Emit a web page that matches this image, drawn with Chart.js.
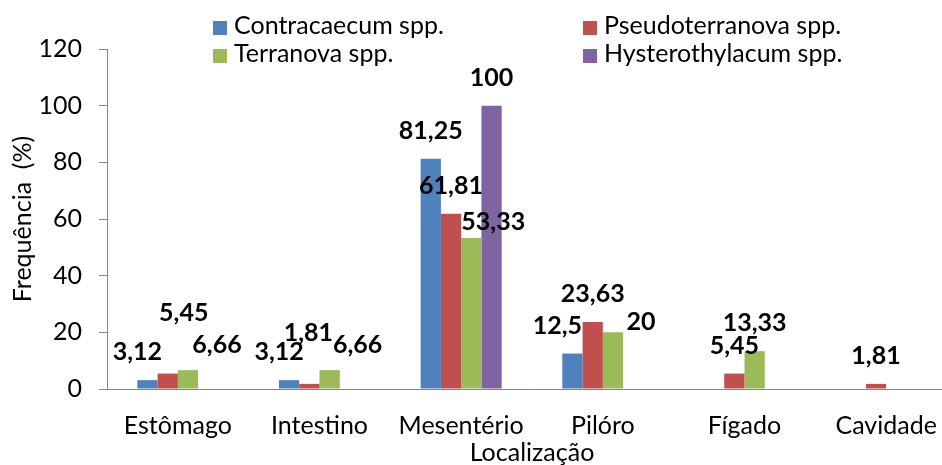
<!DOCTYPE html>
<html>
<head>
<meta charset="utf-8">
<title>Frequência por localização</title>
<script src="https://cdn.jsdelivr.net/npm/chart.js@4/dist/chart.umd.min.js"></script>
<style>
  html, body { margin: 0; padding: 0; overflow: hidden; background: #fff; }
  #wrap { position: relative; width: 960px; height: 465px; }
  #legend { position: absolute; left: 0; top: 0; font-family: Lato, sans-serif; font-size: 25px; color: #000; }
  .item { position: absolute; white-space: nowrap; line-height: 28px; }
  .box { display: inline-block; width: 14px; height: 14px; margin-right: 7px; vertical-align: -1px; }
</style>
</head>
<body>
<div id="wrap">
  <canvas id="chart" width="960" height="465"></canvas>
  <div id="legend"></div>
</div>
<script>
// data
const categories = ['Estômago', 'Intestino', 'Mesentério', 'Pilóro', 'Fígado', 'Cavidade'];
const seriesNames = ['Contracaecum spp.', 'Pseudoterranova spp.', 'Terranova spp.', 'Hysterothylacum spp.'];
const contracaecum = [3.12, 3.12, 81.25, 12.5, null, null];
const pseudoterranova = [5.45, 1.81, 61.81, 23.63, 5.45, 1.81];
const terranova = [6.66, 6.66, 53.33, 20, 13.33, null];
const hysterothylacum = [null, null, 100, null, null, null];
const yTicks = [0, 20, 40, 60, 80, 100, 120];

const colors = ['#4F81BD', '#C0504D', '#9BBB59', '#8064A2'];
const seriesValues = [contracaecum, pseudoterranova, terranova, hysterothylacum];

// labels sit above the bar; a few were dragged aside in the original to avoid overlap
const labelLift = 28;
const labelNudge = {
  '0,0': [-10, 0], '1,0': [16, -33], '2,0': [29, 3],
  '0,1': [-10, 0], '1,1': [-1, -23], '2,1': [28, 3],
  '2,2': [22, 12],
  '0,3': [-15, 0], '2,3': [28, 18]
};

const valueLabels = {
  id: 'valueLabels',
  afterDatasetsDraw(chart) {
    const ctx = chart.ctx;
    ctx.save();
    ctx.font = 'bold 25px Lato, sans-serif';
    ctx.fillStyle = '#000';
    ctx.textAlign = 'center';
    ctx.textBaseline = 'middle';
    chart.data.datasets.forEach((ds, di) => {
      chart.getDatasetMeta(di).data.forEach((bar, ci) => {
        const v = ds.data[ci];
        if (v == null) return;
        const n = labelNudge[di + ',' + ci] || [0, 0];
        ctx.fillText(String(v).replace('.', ','), bar.x + n[0], bar.y - labelLift + n[1]);
      });
    });
    ctx.restore();
  }
};

const legend = document.getElementById('legend');
const legendSpots = [[213, 10], [583, 10], [213, 38], [583, 38]];
seriesNames.forEach((name, i) => {
  const el = document.createElement('div');
  el.className = 'item';
  el.style.left = legendSpots[i][0] + 'px';
  el.style.top = legendSpots[i][1] + 'px';
  el.innerHTML = '<span class="box" style="background:' + colors[i] + '"></span>' + name;
  legend.appendChild(el);
});

const axisGray = '#868686';

new Chart(document.getElementById('chart'), {
  type: 'bar',
  data: {
    labels: categories,
    datasets: seriesNames.map((name, i) => ({
      label: name,
      data: seriesValues[i],
      backgroundColor: colors[i],
      borderWidth: 0,
      barPercentage: 1,
      categoryPercentage: 0.572
    }))
  },
  options: {
    responsive: false,
    animation: false,
    layout: { padding: { top: 49, right: 3, left: 0, bottom: 0 } },
    plugins: { legend: { display: false }, tooltip: { enabled: false } },
    scales: {
      x: {
        grid: { display: false },
        border: { display: true, color: axisGray, width: 1 },
        ticks: { color: '#000', padding: 14, font: { family: 'Lato', size: 25 }, maxRotation: 0 },
        title: { display: true, text: 'Localização', color: '#000',
                 font: { family: 'Lato', size: 25, lineHeight: 1 }, padding: { top: 0, bottom: 0 } },
        afterFit(scale) { scale.height = 76; }
      },
      y: {
        min: 0,
        max: 120,
        afterBuildTicks(scale) { scale.ticks = yTicks.map(v => ({ value: v })); },
        grid: { drawOnChartArea: false, drawTicks: true, tickLength: 8, color: axisGray },
        border: { display: true, color: axisGray, width: 1 },
        ticks: { color: '#000', padding: 17, font: { family: 'Lato', size: 25 } },
        title: { display: true, text: 'Frequência  (%)', color: '#000',
                 font: { family: 'Lato', size: 25, lineHeight: 1 }, padding: { top: 10, bottom: 0 } },
        afterFit(scale) { scale.width = 107; }
      }
    }
  },
  plugins: [valueLabels]
});
</script>
</body>
</html>
